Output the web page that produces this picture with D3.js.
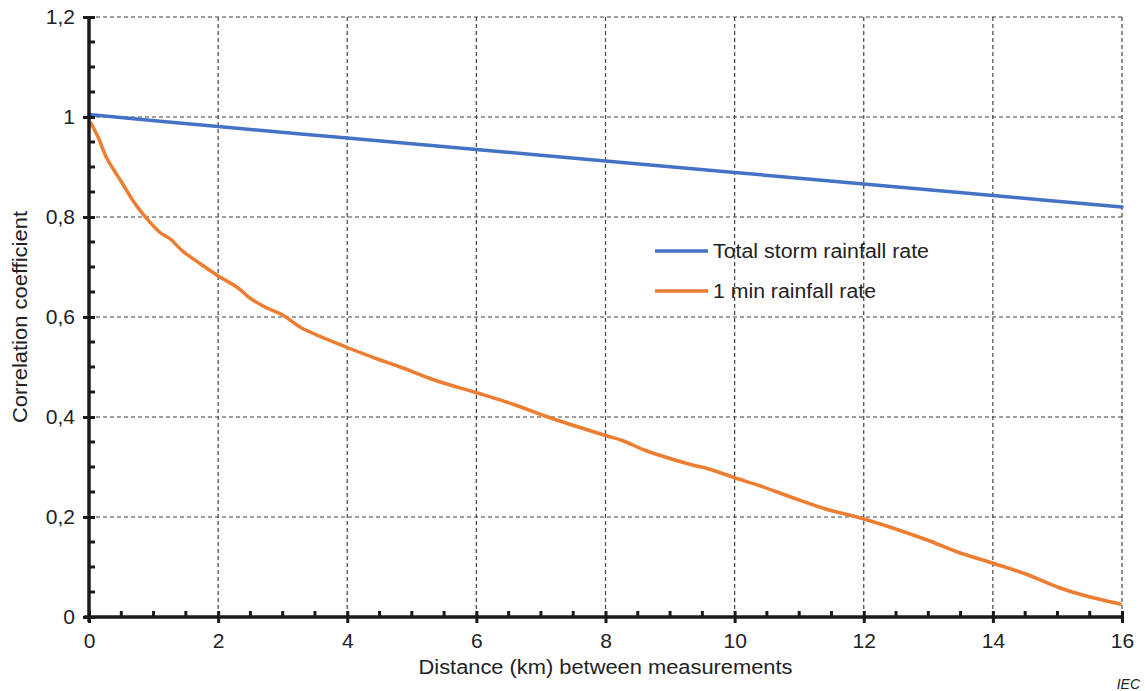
<!DOCTYPE html>
<html>
<head>
<meta charset="utf-8">
<script src="https://cdn.jsdelivr.net/npm/d3@7"></script>
<style>
  html, body { margin: 0; padding: 0; background: #fff; }
  svg { display: block; font-family: "Liberation Sans", Arial, sans-serif; }
</style>
</head>
<body>
<svg id="chart" width="1145" height="691"></svg>
<script>
// ---- Data ----
const xTicks = [0, 2, 4, 6, 8, 10, 12, 14, 16];
const yTicks = [0, 0.2, 0.4, 0.6, 0.8, 1.0, 1.2];
const yTickLabels = ["0", "0,2", "0,4", "0,6", "0,8", "1", "1,2"];

const totalStormX = [0, 2, 4, 6, 8, 10, 12, 14, 16];
const totalStormY = [1.005, 0.981, 0.958, 0.935, 0.912, 0.889, 0.866, 0.843, 0.820];

const oneMinX = [0.03, 0.15, 0.27, 0.39, 0.49, 0.70, 0.88, 1.10, 1.26, 1.44, 1.73, 1.99, 2.30, 2.48, 2.74, 3.00, 3.28, 4.00, 4.49, 4.80, 5.37, 5.99, 6.56, 7.13, 8.00, 8.26, 8.62, 9.29, 9.60, 9.99, 10.38, 10.89, 11.41, 11.98, 12.96, 13.47, 13.99, 14.51, 15.02, 15.39, 15.97];
const oneMinY = [0.988, 0.957, 0.919, 0.893, 0.873, 0.829, 0.799, 0.769, 0.756, 0.733, 0.706, 0.683, 0.659, 0.639, 0.619, 0.604, 0.579, 0.539, 0.515, 0.501, 0.473, 0.449, 0.426, 0.399, 0.363, 0.353, 0.333, 0.306, 0.296, 0.279, 0.263, 0.239, 0.216, 0.197, 0.155, 0.129, 0.108, 0.086, 0.059, 0.044, 0.026];

const seriesNames = ["Total storm rainfall rate", "1 min rainfall rate"];
const seriesColors = ["#4472C4", "#ED7D31"];

// ---- Layout ----
const svg = d3.select("#chart");
const pL = 89, pR = 1122, pT = 17, pB = 617;
const x = d3.scaleLinear().domain([0, 16]).range([pL, pR]);
const y = d3.scaleLinear().domain([0, 1.2]).range([pB, pT]);
const textColor = "#222";

// Grid
const grid = svg.append("g").attr("stroke", "#444").attr("stroke-width", 1.2).attr("stroke-dasharray", "4,3");
xTicks.filter(d => d > 0).forEach(d => {
  grid.append("line").attr("x1", x(d)).attr("x2", x(d)).attr("y1", y(1.2)).attr("y2", y(0));
});
yTicks.filter(d => d > 0).forEach(d => {
  grid.append("line").attr("x1", x(0)).attr("x2", x(16)).attr("y1", y(d)).attr("y2", y(d));
});

// Lines
const line = d3.line().x(d => x(d[0])).y(d => y(d[1])).curve(d3.curveCatmullRom.alpha(0.5));
const series = [
  d3.zip(totalStormX, totalStormY),
  d3.zip(oneMinX, oneMinY)
];
series.forEach((s, i) => {
  svg.append("path").datum(s).attr("d", line)
    .attr("fill", "none").attr("stroke", seriesColors[i]).attr("stroke-width", 3.5)
    .attr("stroke-linejoin", "round").attr("stroke-linecap", "round");
});

// Axes
const axisColor = "#1a1a1a";
const yAxis = d3.axisLeft(y).tickValues(yTicks).tickFormat((d, i) => yTickLabels[i]).tickSize(6).tickPadding(8);
const yg = svg.append("g").attr("transform", `translate(${pL},0)`).call(yAxis);
yg.select(".domain").remove();
yg.selectAll(".tick line").attr("stroke", axisColor).attr("stroke-width", 3).attr("x1", 6).attr("x2", -6);
yg.selectAll(".tick text").attr("font-size", 21).attr("fill", textColor).attr("x", -14)
  .attr("font-family", "Liberation Sans, Arial, sans-serif");
// minor y ticks
const yMinor = d3.range(0, 1.2001, 0.05).filter(v => Math.abs(v * 5 - Math.round(v * 5)) > 1e-6);
svg.append("g").selectAll("line").data(yMinor).join("line")
  .attr("x1", pL).attr("x2", pL + 6).attr("y1", d => y(d)).attr("y2", d => y(d))
  .attr("stroke", axisColor).attr("stroke-width", 3);

const xAxis = d3.axisBottom(x).tickValues(xTicks).tickFormat(d3.format("d")).tickSize(6).tickPadding(10);
const xg = svg.append("g").attr("transform", `translate(0,${pB})`).call(xAxis);
xg.select(".domain").remove();
xg.selectAll(".tick line").attr("stroke", axisColor).attr("stroke-width", 3).attr("y1", -6).attr("y2", 6);
xg.selectAll(".tick text").attr("font-size", 21).attr("fill", textColor)
  .attr("font-family", "Liberation Sans, Arial, sans-serif");
const xMinor = d3.range(0, 16.001, 0.5).filter(v => v % 2 !== 0);
svg.append("g").selectAll("line").data(xMinor).join("line")
  .attr("x1", d => x(d)).attr("x2", d => x(d)).attr("y1", pB).attr("y2", pB - 6)
  .attr("stroke", axisColor).attr("stroke-width", 3);

// axis lines
svg.append("line").attr("x1", pL).attr("x2", pL).attr("y1", y(1.2)).attr("y2", pB + 5)
  .attr("stroke", axisColor).attr("stroke-width", 3.5);
svg.append("line").attr("x1", pL - 5).attr("x2", pR).attr("y1", pB).attr("y2", pB)
  .attr("stroke", axisColor).attr("stroke-width", 3.5);

// Axis titles
svg.append("text").attr("x", (pL + pR) / 2).attr("y", 674).attr("text-anchor", "middle")
  .attr("font-size", 20).attr("fill", textColor)
  .attr("textLength", 374).attr("lengthAdjust", "spacingAndGlyphs")
  .text("Distance (km) between measurements");
svg.append("text").attr("transform", `translate(27,${(pT + pB) / 2}) rotate(-90)`)
  .attr("text-anchor", "middle").attr("font-size", 20).attr("fill", textColor)
  .attr("textLength", 212).attr("lengthAdjust", "spacingAndGlyphs")
  .text("Correlation coefficient");

// Legend
const legendY = [251, 291];
const legendLen = [216, 163];
seriesNames.forEach((n, i) => {
  svg.append("line").attr("x1", 655).attr("x2", 708).attr("y1", legendY[i]).attr("y2", legendY[i])
    .attr("stroke", seriesColors[i]).attr("stroke-width", 3.5);
  svg.append("text").attr("x", 713).attr("y", legendY[i] + 7).attr("font-size", 20).attr("fill", textColor)
    .attr("textLength", legendLen[i]).attr("lengthAdjust", "spacingAndGlyphs").text(n);
});

// IEC mark
svg.append("text").attr("x", 1140).attr("y", 689).attr("text-anchor", "end").attr("font-size", 14)
  .attr("font-style", "italic").attr("fill", textColor).text("IEC");
</script>
</body>
</html>
